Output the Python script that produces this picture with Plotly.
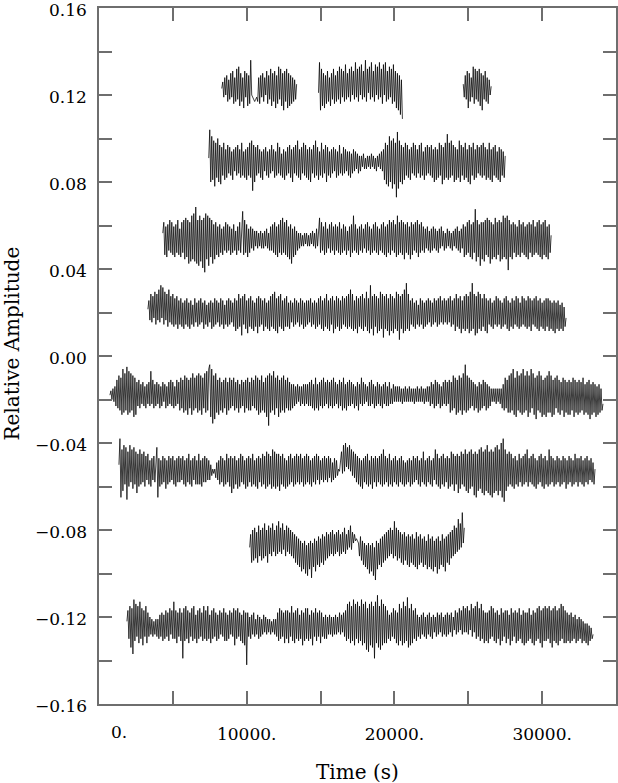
import numpy as np
import plotly.graph_objects as go

# ---- data: deviations in units of 0.001 relative amplitude ----
OFFSETS = [0.123, 0.089, 0.0535, 0.0195, -0.018, -0.053, -0.088, -0.124]

# time spans (s) of each run
T_RANGES = [
    [(8310, 13380), (14860, 20540), (24660, 26550)],
    [(7430, 27500)],
    [(4320, 30610)],
    [(3310, 31620)],
    [(740, 34120)],
    [(1350, 33580)],
    [(10200, 24730)],
    [(1890, 33450)],
]

S1A = [0, 3, -4, 5, -3, 6, -6, 4, -5, 7, -4, 8, -7, 5, -6, 9, -5, 10, -8, 7,
       -6, 5, -9, 8, -4, 7, -8, 6, -7, 13, -3, -4, -5, -6, -5, -4, -6, 5, -7, 6,
       -4, 7, -6, 5, -3, 8, -7, 6, -5, 9, -8, 7, -6, 8, -9, 6, -7, 10, -5, 9,
       -8, 7, -10, 8, -6, 9, -9, 7, -8, 6, -7, 5, -6, 4, -5, 2]
S1B = [-2, 12, -10, 9, -8, 7, -9, 6, -7, 8, -6, 5, -8, 7, -5, 9, -7, 6, -6, 8,
       -5, 10, -7, 9, -4, 8, -6, 11, -5, 7, -4, 9, -6, 10, -3, 8, -5, 12, -4, 9,
       -6, 10, -3, 11, -5, 8, -4, 13, -6, 9, -2, 10, -5, 12, -4, 8, -6, 11, -3, 10,
       -5, 12, -4, 9, -7, 11, -3, 12, -6, 8, -5, 10, -4, 9, -7, 11, -6, 8, -9, 7,
       -10, 6, -12, 4, -14]
S1C = [2, -4, 6, -5, 8, -9, 7, -6, 5, -4, 10, -7, 9, -5, 8, -6, 9, -8, 7, -10,
       6, -5, 8, -6, 5, -7, 4, -3, 1]

S2 = [2, 15, -9, 12, -8, 10, -11, 9, -7, 11, -9, 8, -10, 7, -6, 9, -8, 6, -7, 8,
      -5, 7, -6, 5, -8, 6, -4, 7, -6, 8, -5, 6, -7, 9, -6, 5, -7, 6, -8, 7,
      -6, 9, -7, 10, -13, 8, -9, 7, -6, 8, -5, 6, -7, 5, -8, 6, -4, 7, -6, 5,
      -7, 6, -5, 8, -4, 6, -7, 5, -6, 9, -5, 7, -6, 4, -7, 6, -8, 5, -6, 7,
      -5, 8, -7, 6, -9, 7, -5, 8, -6, 10, -7, 6, -8, 7, -5, 9, -6, 8, -7, 6,
      -8, 7, -9, 6, -5, 8, -7, 10, -6, 7, -8, 5, -6, 9, -7, 6, -5, 8, -9, 7,
      -6, 5, -7, 6, -5, 7, -4, 6, -7, 5, -6, 8, -5, 4, -6, 7, -5, 6, -4, 5,
      -6, 5, -7, 4, -5, 6, -4, 5, -3, 4, -5, 3, -4, 3, -2, 4, -3, 2, -3, 3,
      -2, 3, -3, 4, -2, 3, -3, 2, -4, 3, -2, 4, -3, 5, -4, 6, -8, 9, -10, 8,
      -11, 12, -9, 10, -12, 11, -10, 9, -16, 14, -12, 10, -9, 8, -10, 7, -8, 9, -6, 8,
      -7, 6, -8, 7, -5, 9, -6, 8, -7, 6, -5, 8, -7, 9, -6, 5, -8, 7, -6, 8,
      -5, 7, -6, 8, -7, 6, -9, 7, -8, 6, -7, 9, -6, 8, -10, 7, -8, 9, -7, 13,
      -8, 9, -7, 10, -6, 8, -9, 7, -8, 6, -7, 10, -9, 8, -6, 7, -8, 9, -7, 6,
      -9, 8, -10, 7, -6, 9, -8, 6, -7, 8, -5, 7, -6, 8, -7, 9, -6, 7, -8, 6,
      -7, 9, -8, 6, -9, 7, -6, 8, -7, 5, -8, 7, -9, 6, -6, 5, -7, 3]

S3 = [3, 8, -7, 6, -8, 7, -5, 9, -6, 8, -7, 6, -8, 7, -6, 9, -7, 5, -8, 8,
      -6, 9, -9, 10, -8, 9, -11, 8, -10, 11, -9, 12, -10, 15, -11, 9, -12, 11, -10, 9,
      -13, 10, -15, 12, -9, 11, -12, 10, -8, 9, -11, 7, -9, 8, -7, 6, -8, 7, -6, 5,
      -7, 6, -5, 8, -6, 7, -5, 6, -7, 5, -6, 7, -5, 4, -7, 6, -5, 8, -6, 7,
      13, -7, 9, -6, 7, -8, 5, -6, 6, -4, 5, -5, 4, -3, 4, -4, 3, -3, 4, -4,
      3, -4, 4, -3, 5, -4, 3, -5, 6, -5, 7, -6, 8, -7, 6, -8, 7, -6, 9, -7,
      10, -6, 8, -7, 9, -8, 6, -9, 7, -11, 5, -8, 6, -7, 4, -5, 3, -4, 3, -3,
      2, -3, 3, -2, 3, -3, 2, -3, 3, -2, 4, -3, 3, -4, 5, -3, 6, 10, -6, 8,
      -5, 6, -7, 8, -6, 5, -4, 7, -6, 8, -5, 6, -7, 7, -5, 6, -6, 8, -7, 5,
      -6, 7, -5, 6, -7, 4, -5, 6, -8, 7, -6, 11, -5, 7, -6, 5, -7, 6, -5, 7,
      -6, 5, -4, 7, -6, 8, -5, 6, -7, 5, -6, 7, -5, 8, -6, 6, -7, 5, -5, 7,
      -6, 8, -7, 6, -8, 7, -6, 9, -7, 8, -5, 9, -6, 7, -8, 11, -7, 8, -6, 9,
      -7, 8, -9, 7, -6, 8, -7, 6, -9, 8, -7, 7, -5, 8, -6, 9, -8, 7, -6, 8,
      -5, 6, -6, 5, -4, 6, -5, 4, -6, 5, -5, 6, -4, 5, -5, 4, -6, 5, -4, 6,
      -3, 4, -5, 3, -4, 5, -3, 4, -4, 3, -5, 4, -3, 5, -4, 6, -5, 4, -6, 5,
      -4, 7, -8, 6, -7, 8, -6, 9, -8, 7, -9, 8, -6, 14, -10, 9, -8, 7, -12, 8,
      -9, 8, -10, 9, -7, 10, -8, 9, -11, 8, -9, 7, -8, 10, -9, 8, -7, 9, -10, 8,
      -9, 11, -8, 10, -9, 11, -14, 9, -8, 7, -9, 8, -6, 7, -8, 6, -7, 9, -8, 7,
      -6, 8, -7, 6, -8, 7, -9, 8, -6, 7, -8, 9, -7, 6, -6, 8, -7, 9, -8, 7,
      -9, 8, -7, 9, -8, 6, -9, 7, -6, 2]

S4 = [2, 6, -3, 9, -4, 8, -2, 10, -5, 9, -3, 11, -4, 13, -2, 12, -5, 10, -3, 9,
      -6, 11, -4, 8, -5, 9, -6, 7, -5, 8, -7, 6, -5, 7, -6, 5, -7, 6, -5, 7,
      -6, 5, -7, 6, -5, 4, -6, 7, -4, 5, -6, 6, -5, 7, -4, 5, -7, 6, -5, 4,
      -6, 5, -4, 6, -7, 5, -6, 7, -5, 6, -4, 5, -6, 7, -5, 6, -7, 4, -5, 6,
      -6, 7, -5, 6, -4, 5, -6, 7, -8, 6, -7, 9, -6, 7, -10, 8, -5, 9, -7, 6,
      -9, 7, -6, 8, -7, 6, -8, 5, -6, 7, -9, 8, -6, 7, -5, 6, -8, 7, -6, 5,
      -7, 6, -8, 8, -6, 9, -7, 10, -8, 7, -9, 8, -6, 9, -7, 6, -8, 7, -6, 8,
      -6, 5, -7, 6, -4, 5, -6, 7, -5, 6, -4, 5, -6, 7, -5, 6, -7, 5, -6, 6,
      -5, 6, -4, 7, -6, 5, -5, 6, -7, 5, -6, 7, -5, 8, -7, 6, -8, 7, -6, 9,
      -7, 6, -8, 7, -5, 8, -9, 6, -7, 8, -6, 7, -8, 6, -7, 8, -5, 7, -6, 8,
      -7, 9, -6, 11, -7, 9, -8, 6, -7, 8, -9, 7, -6, 8, -7, 9, -8, 7, -6, 10,
      -8, 7, -9, 13, -7, 8, -10, 9, -6, 8, -9, 7, -8, 10, -7, 9, -11, 8, -7, 9,
      -8, 7, -10, 9, -8, 8, -9, 7, -7, 10, -8, 9, -12, 8, -7, 9, -9, 11, -8, 14,
      -7, 9, -8, 6, -5, 7, -6, 5, -7, 6, -5, 4, -6, 7, -5, 6, -7, 5, -6, 6,
      -5, 7, -4, 6, -6, 5, -5, 7, -4, 6, -6, 7, -5, 8, -4, 6, -5, 7, -4, 6,
      -5, 7, -4, 8, -6, 6, -5, 7, -8, 9, -6, 7, -7, 8, -9, 6, -7, 8, -8, 9,
      -7, 8, -9, 10, -8, 14, -7, 9, -10, 8, -9, 10, -7, 9, -8, 7, -6, 9, -8, 7,
      -9, 6, -5, 7, -6, 5, -7, 6, -5, 8, -6, 7, -5, 6, -7, 5, -6, 7, -5, 8,
      -7, 6, -8, 5, -6, 7, -7, 6, -5, 8, -6, 7, -7, 5, -6, 8, -5, 7, -6, 6,
      -7, 8, -6, 7, -8, 6, -5, 7, -6, 8, -7, 6, -8, 7, -6, 5, -7, 6, -8, 7,
      -6, 7, -8, 6, -7, 5, -8, 6, -9, 5, -7, 6, -8, 4, -7, 5, -8, 3, -6, -2]

S5 = [0, 2, -2, 3, -3, 4, -5, 7, -6, 9, -7, 8, -9, 12, -8, 10, -7, 13, -9, 11,
      -8, 10, -7, 9, -10, 8, -9, 6, -5, 7, -6, 5, -4, 6, -5, 4, -6, 5, -4, 6,
      -5, 11, -4, 7, -6, 5, -5, 6, -4, 5, -6, 4, -5, 6, -3, 5, -6, 4, -5, 6,
      -4, 7, -5, 6, -6, 4, -5, 7, -4, 6, -7, 8, -6, 7, -8, 9, -7, 8, -9, 7,
      -6, 8, -9, 10, -7, 8, -6, 9, -8, 10, -7, 9, -9, 8, -6, 10, -8, 11, -7, 12,
      14, -10, 12, -13, 9, -11, 10, -8, 7, -9, 8, -7, 6, -8, 7, -6, 8, -9, 6, -7,
      8, -6, 7, -5, 8, -7, 6, -6, 7, -8, 5, -6, 7, -5, 6, -8, 7, -6, 8, -7,
      6, -7, 8, -5, 7, -6, 9, -7, 8, -9, 7, -8, 9, -7, 6, -8, 8, -10, 9, -14,
      10, -8, 9, -7, 11, -9, 8, -6, 9, -10, 7, -8, 8, -7, 9, -8, 7, -6, 8, -7,
      6, -7, 5, -6, 5, -5, 4, -4, 5, -3, 4, -5, 4, -4, 5, -5, 5, -4, 5, -5,
      6, -5, 7, -6, 5, -7, 8, -6, 5, -7, 6, -5, 7, -6, 8, -5, 6, -4, 7, -6,
      6, -5, 7, -6, 8, -5, 6, -4, 5, -6, 7, -5, 6, -7, 8, -6, 5, -7, 6, -5,
      7, -5, 6, -4, 5, -6, 4, -5, 6, -7, 5, -4, 8, -5, 6, -4, 5, -3, 4, -5,
      6, -5, 7, -4, 5, -6, 4, -5, 6, -4, 5, -5, 4, -6, 5, -4, 6, -5, 4, -5,
      6, -4, 3, -4, 5, -3, 4, -3, 4, -3, 4, -3, 3, -4, 3, -3, 4, -3, 3, -3,
      4, -3, 3, -3, 3, -4, 3, -3, 4, -3, 3, -3, 4, -3, 3, -4, 3, -3, 4, -3,
      4, -5, 6, -4, 5, -6, 7, -5, 6, -4, 5, -6, 4, -5, 6, -4, 7, -5, 6, -4,
      7, -8, 6, -7, 9, -6, 8, -9, 7, -8, 9, -7, 8, -9, 10, -7, 14, -8, 9, -7,
      8, -6, 7, -5, 6, -7, 5, -6, 4, -8, 6, -7, 5, -6, 7, -5, 6, -7, 5, -6,
      4, -5, 3, -3, 3, -3, 3, -4, 3, -3, 3, -4, 3, -6, 5, -7, 8, -6, 7, -8,
      9, -8, 10, -7, 12, -9, 8, -10, 11, -7, 9, -8, 10, -9, 12, -8, 9, -7, 11, -10,
      9, -8, 12, -6, 10, -9, 8, -11, 9, -7, 11, -8, 9, -10, 7, -9, 8, -10, 9, -8,
      11, -8, 9, -10, 7, -9, 8, -6, 9, -8, 7, -9, 6, -7, 8, -10, 7, -8, 6, -9,
      7, -9, 6, -7, 8, -10, 7, -8, 6, -9, 7, -8, 6, -7, 8, -9, 5, -8, 6, -9,
      7, -11, 5, -9, 6, -8, 5, -10, 4, -9, 5, -8, 3, -7, -4]

S6 = [3, 15, -12, 10, -9, 12, -6, 11, -13, 9, -7, 12, -5, 10, -8, 11, -6, 9, -10, 8,
      -7, 10, -6, 8, -5, 9, -7, 7, -4, 8, -6, 5, -7, 6, -4, 7, -5, 6, 11, -12,
      6, -7, 5, -6, 7, -5, 6, -8, 5, -6, 7, -5, 6, -4, 7, -6, 5, -7, 6, -5,
      7, -5, 6, -4, 7, -6, 5, -7, 6, -5, 8, -6, 5, -7, 6, -4, 7, -6, 5, -6,
      8, -6, 5, -7, 6, -5, 7, -5, 6, -4, 5, -4, 3, -2, 1, -1, 1, -3, 4, -4,
      5, -6, 7, -5, 6, -7, 5, -6, 8, -5, 6, -7, 7, -10, 6, -8, 7, -6, 5, -8,
      6, -7, 8, -5, 7, -6, 5, -8, 6, -7, 7, -5, 6, -7, 8, -6, 5, -7, 6, -8,
      7, -5, 6, -7, 8, -6, 7, -8, 9, -7, 8, -6, 7, -8, 10, -7, 9, -8, 8, -7,
      8, -9, 7, -6, 8, -7, 6, -8, 5, -7, 7, -6, 8, -5, 6, -7, 7, -6, 8, -5,
      7, -6, 8, -5, 6, -7, 7, -6, 8, -5, 7, -6, 5, -7, 6, -5, 7, -6, 8, -4,
      7, -6, 5, -4, 6, -5, 7, -4, 6, -5, 7, -3, 6, -5, 4, -4, 6, -3, 5, -2,
      1, 0, 4, 9, -1, 12, 0, 13, 2, 11, 1, 12, 0, 10, -2, 9, -3, 8, -5, 7,
      -6, 6, -7, 5, -8, 6, -5, 7, -6, 8, -7, 5, -6, 7, -8, 6, -5, 7, -7, 6,
      -5, 7, -6, 8, -7, 10, -6, 7, -5, 6, -7, 8, -6, 5, -7, 6, -5, 7, -6, 5,
      -7, 6, -5, 7, -6, 5, -7, 4, -6, 5, -5, 6, -7, 5, -6, 7, -5, 6, -4, 7,
      -6, 5, -7, 6, -5, 9, -6, 5, -7, 6, -5, 7, -6, 5, -7, 6, -4, 10, -6, 8,
      -7, 6, -8, 7, -6, 8, -7, 6, -5, 7, -8, 6, -7, 9, -6, 8, -9, 7, -6, 8,
      -10, 7, -8, 9, -6, 8, -7, 10, -9, 8, -10, 9, -8, 10, -7, 8, -11, 9, -12, 8,
      -9, 10, -8, 11, -10, 9, -11, 10, -9, 12, -10, 9, -11, 10, -12, 9, -10, 11, -9, 12,
      -11, 10, -9, 13, -12, 15, -14, 10, -9, 8, -7, 9, -6, 8, -7, 6, -8, 7, -6, 5,
      -7, 8, -5, 6, -7, 7, -6, 8, -5, 10, -7, 6, -5, 7, -6, 8, -7, 6, -8, 5,
      -6, 7, -5, 8, -7, 6, -8, 7, -6, 5, -7, 10, -6, 7, -5, 6, -7, 5, -6, 7,
      -5, 6, -7, 5, -6, 7, -5, 6, -8, 5, -6, 7, -5, 6, -7, 5, -6, 8, -5, 6,
      -7, 6, -5, 7, -6, 5, -7, 6, -5, 7, -6, 5, -4, 6, -5, 4, -6, 1]

S7 = [0, 6, -7, 8, -6, 9, -5, 7, -7, 10, -4, 8, -6, 9, -5, 11, -4, 8, -7, 10,
      -3, 9, -4, 11, -2, 8, -4, 10, -3, 12, -2, 9, -3, 11, -1, 8, -4, 10, -2, 9,
      -3, 8, -4, 7, -5, 6, -7, 5, -8, 4, -9, 3, -11, 2, -10, 3, -12, 1, -13, 2,
      -10, 3, -14, 2, -9, 4, -11, 3, -8, 5, -9, 4, -7, 6, -8, 5, -6, 7, -5, 6,
      -4, 7, -3, 8, -4, 6, -3, 7, -2, 8, -4, 6, -3, 7, -2, 9, -3, 6, -1, 8,
      0, 10, -1, 7, 2, 6, 3, 4, 3, 2, -4, 5, -6, 3, -8, 2, -9, 1, -10, 2,
      -12, 1, -11, 2, -13, 0, -15, 3, -10, 2, -8, 4, -9, 5, -7, 6, -6, 7, -5, 8,
      -4, 9, -3, 8, -5, 12, -4, 9, -6, 8, -5, 7, -7, 6, -8, 7, -6, 5, -8, 6,
      -9, 5, -7, 6, -8, 4, -9, 7, -10, 5, -8, 6, -7, 4, -9, 5, -8, 3, -10, 6,
      -9, 4, -10, 5, -11, 3, -9, 4, -12, 5, -10, 3, -8, 6, -9, 4, -11, 5, -7, 6,
      -8, 7, -5, 8, -4, 10, -3, 9, -2, 13, -1, 11, 0, 16, 2, 9]

S8 = [2, 7, -6, 9, -10, 8, -13, 12, -7, 10, -5, 9, -8, 11, -6, 8, -9, 7, -5, 9,
      -8, 6, -5, 4, -4, 3, -5, 2, -4, 3, -5, 3, -6, 5, -5, 6, -7, 5, -6, 7,
      -5, 6, -7, 8, -4, 7, -6, 11, -6, 7, -8, 6, -5, 8, -7, 6, -15, 8, -7, 9,
      -6, 7, -8, 6, -5, 8, -7, 9, -6, 5, -8, 7, -6, 8, -5, 6, -7, 9, -6, 7,
      -7, 9, -6, 5, -8, 7, -6, 8, -5, 6, -7, 5, -6, 7, -4, 6, -5, 8, -7, 6,
      -7, 5, -6, 7, -4, 6, -5, 8, -9, 7, -6, 8, -5, 6, -7, 5, -8, 7, -9, 6,
      -18, 6, -5, 4, -6, 5, -4, 6, -5, 3, -4, 5, -6, 4, -5, 3, -4, 5, -3, 4,
      -4, 3, -3, 3, -4, 2, -3, 3, -4, 3, -5, 6, -7, 8, -6, 7, -5, 6, -8, 7,
      -6, 7, -8, 6, -5, 9, -7, 6, -8, 7, -6, 8, -7, 5, -6, 7, -9, 6, -7, 8,
      -6, 8, -7, 5, -6, 7, -9, 6, -5, 8, -7, 6, -5, 7, -8, 6, -5, 4, -6, 5,
      -6, 4, -4, 5, -4, 4, -5, 4, -4, 5, -4, 4, -3, 6, -4, 5, -3, 6, -5, 7,
      -7, 10, -6, 11, -8, 9, -7, 12, -9, 10, -6, 11, -8, 9, -7, 12, -9, 10, -8, 11,
      -11, 8, -12, 10, -9, 11, -10, 9, -15, 11, -8, 14, -10, 9, -11, 12, -9, 10, -8, 9,
      -8, 7, -6, 5, -7, 6, -5, 8, -6, 7, -8, 6, -9, 10, -7, 8, -9, 11, -8, 9,
      -7, 13, -10, 8, -9, 10, -8, 7, -6, 8, -7, 5, -5, 4, -6, 5, -4, 6, -5, 4,
      -6, 5, -4, 6, -5, 4, -6, 5, -3, 4, -5, 6, -4, 5, -3, 6, -5, 4, -4, 5,
      -5, 6, -4, 5, -3, 6, -5, 4, -2, 7, -4, 6, -3, 8, -2, 7, -4, 9, -3, 8,
      -3, 9, -4, 7, -2, 10, -5, 8, -3, 9, -6, 11, -5, 8, -7, 10, -6, 7, -8, 6,
      -7, 6, -8, 7, -6, 9, -5, 8, -7, 6, -8, 7, -6, 5, -9, 8, -7, 6, -5, 7,
      -8, 7, -6, 5, -9, 8, -7, 6, -5, 7, -8, 6, -7, 8, -6, 5, -8, 7, -9, 6,
      -8, 6, -7, 8, -6, 5, -8, 7, -9, 6, -7, 8, -6, 9, -8, 7, -10, 8, -7, 9,
      -7, 8, -6, 9, -8, 7, -10, 8, -7, 9, -8, 7, -9, 8, -7, 10, -6, 9, -8, 7,
      -8, 6, -7, 5, -8, 6, -7, 4, -6, 5, -8, 3, -7, 4, -6, 3, -8, 2, -7, 1,
      -8, 1, -9, 0, -7, -1, -6, -4]

SERIES = [[S1A, S1B, S1C], [S2], [S3], [S4], [S5], [S6], [S7], [S8]]
UNIT = 0.001

X_TICKS = [0, 5000, 10000, 15000, 20000, 25000, 30000, 35000]
X_LABELS = ["", "", "10000.", "", "20000.", "", "30000.", ""]
Y_TICKS = [0.16, 0.14, 0.12, 0.10, 0.08, 0.06, 0.04, 0.02, 0.0,
           -0.02, -0.04, -0.06, -0.08, -0.10, -0.12, -0.14, -0.16]
Y_LABEL_VALUES = [0.16, 0.12, 0.08, 0.04, 0.0, -0.04, -0.08, -0.12, -0.16]
Y_LABELS = ["0.16", "0.12", "0.08", "0.04", "0.00",
            "\u22120.04", "\u22120.08", "\u22120.12", "\u22120.16"]

# ---- figure ----
fig = go.Figure()
for off, runs, spans in zip(OFFSETS, SERIES, T_RANGES):
    for vals, (t0, t1) in zip(runs, spans):
        t = np.linspace(t0, t1, len(vals))
        y = off + np.array(vals) * UNIT
        fig.add_trace(go.Scatter(x=t, y=y, mode="lines",
                                 line=dict(color="black", width=0.75),
                                 showlegend=False, hoverinfo="skip"))

FONT = "DejaVu Serif"
AX = "#6e6e6e"
TF = dict(family=FONT, size=17, color="black")
fig.update_layout(
    width=618, height=783,
    margin=dict(l=99, r=2, t=8, b=79, autoexpand=False),
    paper_bgcolor="white", plot_bgcolor="white",
    font=TF,
)
fig.update_xaxes(range=[0, 35000], tickvals=X_TICKS, ticktext=X_LABELS,
                 ticks="inside", ticklen=13, tickwidth=1.5, tickcolor=AX,
                 showline=True, linecolor=AX, linewidth=2, mirror="ticks",
                 showgrid=False, zeroline=False, ticklabelstandoff=14,
                 automargin=False, ticklabeloverflow="allow", tickfont=TF)
fig.update_yaxes(range=[-0.16, 0.16], tickvals=Y_TICKS, showticklabels=False,
                 ticks="inside", ticklen=13, tickwidth=1.5, tickcolor=AX,
                 showline=True, linecolor=AX, linewidth=2, mirror="ticks",
                 showgrid=False, zeroline=False, automargin=False)

# y tick labels, set just below each labelled tick
for v, lab in zip(Y_LABEL_VALUES, Y_LABELS):
    fig.add_annotation(text=lab, x=0, y=v, xref="paper", yref="y",
                       xanchor="right", yanchor="middle", xshift=-10, yshift=-2,
                       showarrow=False, font=TF)

fig.add_annotation(text="0.", x=0, y=0, xref="x", yref="paper",
                   xanchor="left", yanchor="middle", xshift=10, yshift=-28,
                   showarrow=False, font=TF)
fig.add_annotation(text="Time (s)", x=0.5, y=0, xref="paper", yref="paper",
                   xanchor="center", yanchor="middle", yshift=-68,
                   showarrow=False, font=dict(family=FONT, size=20, color="black"))
fig.add_annotation(text="Relative Amplitude", x=0, y=0.518, xref="paper", yref="paper",
                   xanchor="center", yanchor="middle", xshift=-87, textangle=-90,
                   showarrow=False, font=dict(family=FONT, size=20, color="black"))

fig.write_html("out.html",
               config={"displayModeBar": False},
               post_script="document.body.style.margin='0px';"
                           "document.body.style.overflow='hidden';")
